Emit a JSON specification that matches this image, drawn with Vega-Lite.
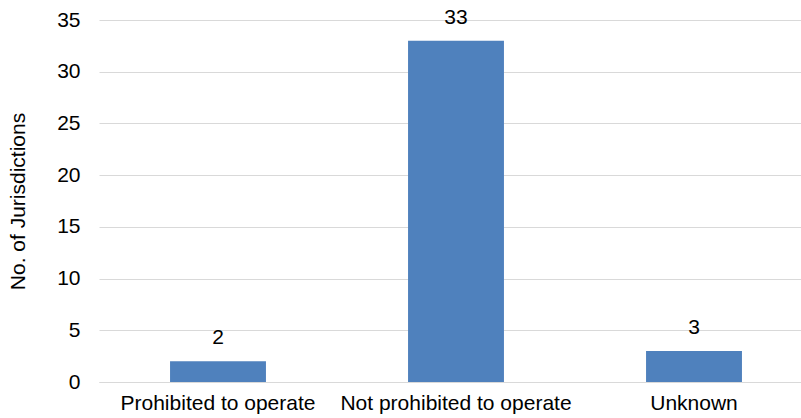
{
  "$schema": "https://vega.github.io/schema/vega-lite/v6.json",
  "width": 714,
  "height": 362,
  "autosize": {"type": "none"},
  "padding": {"left": 99, "top": 20, "right": 0, "bottom": 36},
  "background": "white",
  "config": {
    "view": {"stroke": null},
    "font": "Liberation Sans",
    "axis": {"labelFont": "Liberation Sans", "titleFont": "Liberation Sans", "labelColor": "#000000", "titleColor": "#000000"}
  },
  "data": {
    "values": [
      {"status": "Prohibited to operate", "count": 2},
      {"status": "Not prohibited to operate", "count": 33},
      {"status": "Unknown", "count": 3}
    ]
  },
  "encoding": {
    "x": {
      "field": "status",
      "type": "nominal",
      "sort": null,
      "scale": {"paddingInner": 0.597, "paddingOuter": 0.2985},
      "axis": {
        "title": null,
        "labelAngle": 0,
        "labelFontSize": 21,
        "labelPadding": 10,
        "labelLimit": 0,
        "labelOverlap": false,
        "ticks": false,
        "domainColor": "#d9d9d9",
        "domainWidth": 1
      }
    },
    "y": {
      "field": "count",
      "type": "quantitative",
      "scale": {"domain": [0, 35]},
      "axis": {
        "title": "No. of Jurisdictions",
        "titleFontSize": 21,
        "titleFontWeight": "normal",
        "titlePadding": 28,
        "values": [0, 5, 10, 15, 20, 25, 30, 35],
        "labelFontSize": 21,
        "labelPadding": 19,
        "ticks": false,
        "domain": false,
        "gridColor": "#d9d9d9",
        "gridWidth": 1
      }
    }
  },
  "layer": [
    {"mark": {"type": "bar", "color": "#4F81BD"}},
    {
      "mark": {"type": "text", "fontSize": 21, "dy": -17, "baseline": "alphabetic", "color": "#000000"},
      "encoding": {"text": {"field": "count", "type": "quantitative"}}
    }
  ]
}
